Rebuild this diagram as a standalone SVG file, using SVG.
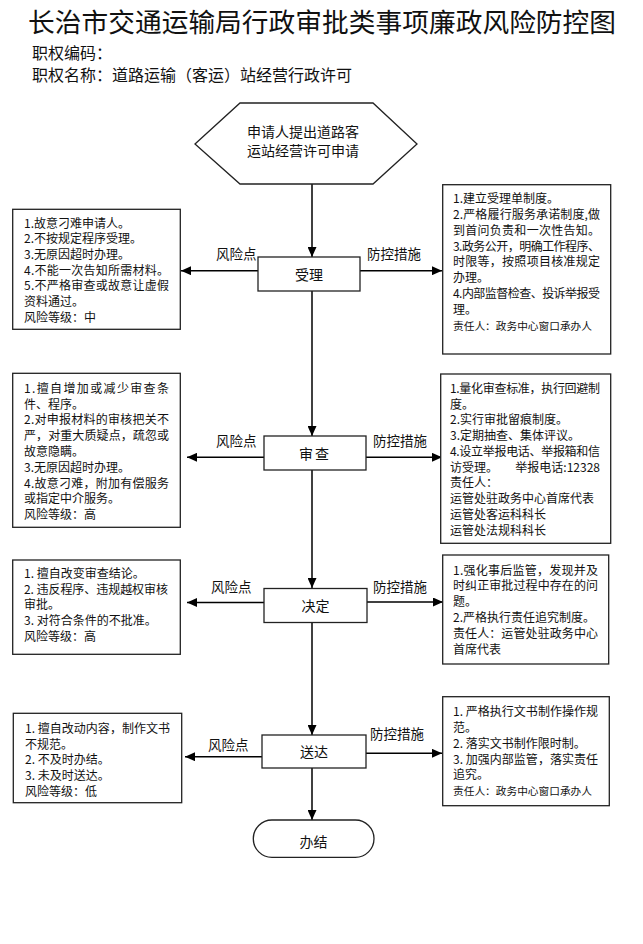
<svg xmlns="http://www.w3.org/2000/svg" width="643" height="944" viewBox="0 0 643 944">
<style>
text{font-family:"Noto Sans CJK SC","Noto Sans",sans-serif;fill:#111}
.title{font-size:26.7px}
.sub{font-size:16px}
.t{font-size:12px}
.s{font-size:10.7px}
.lbl{font-size:13.5px}
.nd{font-size:14px}
.box{fill:#fff;stroke:#222;stroke-width:1.3}
.ln{stroke:#000;stroke-width:1.5;fill:none}
</style>
<defs>
<marker id="ah" markerUnits="userSpaceOnUse" markerWidth="10" markerHeight="9" refX="10" refY="4.5" orient="auto">
<path d="M0,0 L10,4.5 L0,9 Z" fill="#000"/>
</marker>
</defs>
<rect width="643" height="944" fill="#fff"/>
<g id="header">
<text class="title" x="28" y="31.5" textLength="588">长治市交通运输局行政审批类事项廉政风险防控图</text>
<text class="sub" x="32" y="58.5">职权编码：</text>
<text class="sub" x="32" y="80.5">职权名称：道路运输（客运）站经营行政许可</text>
</g>
<g id="connectors">
<line class="ln" x1="312" y1="184" x2="312" y2="257" marker-end="url(#ah)"/>
<line class="ln" x1="312" y1="291" x2="312" y2="436" marker-end="url(#ah)"/>
<line class="ln" x1="312" y1="470" x2="312" y2="588" marker-end="url(#ah)"/>
<line class="ln" x1="312" y1="623" x2="312" y2="735" marker-end="url(#ah)"/>
<line class="ln" x1="312" y1="768" x2="312" y2="820" marker-end="url(#ah)"/>
<line class="ln" x1="258" y1="270.7" x2="181" y2="270.7" marker-end="url(#ah)"/>
<line class="ln" x1="360" y1="270.7" x2="442" y2="270.7" marker-end="url(#ah)"/>
<line class="ln" x1="264" y1="457.3" x2="187" y2="457.3" marker-end="url(#ah)"/>
<line class="ln" x1="366" y1="457.3" x2="442" y2="457.3" marker-end="url(#ah)"/>
<line class="ln" x1="264" y1="602.5" x2="187" y2="602.5" marker-end="url(#ah)"/>
<line class="ln" x1="367" y1="602" x2="443" y2="602" marker-end="url(#ah)"/>
<line class="ln" x1="262" y1="756.7" x2="185" y2="756.7" marker-end="url(#ah)"/>
<line class="ln" x1="366" y1="753.3" x2="442" y2="753.3" marker-end="url(#ah)"/>
<text class="lbl" x="216" y="259">风险点</text>
<text class="lbl" x="367" y="259">防控措施</text>
<text class="lbl" x="216" y="446">风险点</text>
<text class="lbl" x="373" y="446">防控措施</text>
<text class="lbl" x="211" y="592">风险点</text>
<text class="lbl" x="373" y="592">防控措施</text>
<text class="lbl" x="208" y="750">风险点</text>
<text class="lbl" x="370" y="739">防控措施</text>
</g>
<g id="start">
<polygon class="box" points="195,144 240,103 373,103 417,144 373,184 240,184"/>
<text class="nd" x="303" y="137" text-anchor="middle">申请人提出道路客</text>
<text class="nd" x="303" y="156" text-anchor="middle">运站经营许可申请</text>
</g>
<g id="n-shouli">
<rect class="box" x="258" y="257" width="102" height="34"/>
<text class="nd" x="309" y="279.5" text-anchor="middle">受理</text>
</g>
<g id="n-shencha">
<rect class="box" x="264" y="436" width="102" height="34"/>
<text class="nd" x="315" y="458.5" text-anchor="middle" letter-spacing="2">审查</text>
</g>
<g id="n-jueding">
<rect class="box" x="264" y="588.5" width="103" height="34"/>
<text class="nd" x="315.5" y="611" text-anchor="middle">决定</text>
</g>
<g id="n-songda">
<rect class="box" x="262" y="735" width="104" height="33"/>
<text class="nd" x="314" y="757" text-anchor="middle">送达</text>
</g>
<g id="n-banjie">
<rect class="box" x="253.3" y="820" width="120.7" height="37.3" rx="18.6"/>
<text class="nd" x="313.5" y="847" text-anchor="middle">办结</text>
</g>
<g id="risk-1">
<rect class="box" x="12.7" y="209.3" width="167.6" height="120"/>
<text class="t" x="24" y="227.5">1.故意刁难申请人。</text>
<text class="t" x="24" y="243.2">2.不按规定程序受理。</text>
<text class="t" x="24" y="258.9">3.无原因超时办理。</text>
<text class="t" x="24" y="274.6" textLength="145">4.不能一次告知所需材料。</text>
<text class="t" x="24" y="290.3" textLength="145">5.不严格审查或故意让虚假</text>
<text class="t" x="24" y="306">资料通过。</text>
<text class="t" x="24" y="321.7">风险等级：中</text>
</g>
<g id="ctrl-1">
<rect class="box" x="442.7" y="184.7" width="168" height="169.3"/>
<text class="t" x="453" y="202.8">1.建立受理单制度。</text>
<text class="t" x="453" y="218.7" textLength="147">2.严格履行服务承诺制度,做</text>
<text class="t" x="453" y="234.6" textLength="147">到首问负责和一次性告知。</text>
<text class="t" x="453" y="250.5" textLength="147">3.政务公开，明确工作程序、</text>
<text class="t" x="453" y="266.4" textLength="147">时限等，按照项目核准规定</text>
<text class="t" x="453" y="282.3">办理。</text>
<text class="t" x="453" y="298.2" textLength="147">4.内部监督检查、投诉举报受</text>
<text class="t" x="453" y="314.1">理。</text>
<text class="s" x="453" y="330">责任人：政务中心窗口承办人</text>
</g>
<g id="risk-2">
<rect class="box" x="12.7" y="373.3" width="167.6" height="154"/>
<text class="t" x="24" y="392.8" textLength="145">1.擅自增加或减少审查条</text>
<text class="t" x="24" y="408.6">件、程序。</text>
<text class="t" x="24" y="424.4" textLength="145">2.对申报材料的审核把关不</text>
<text class="t" x="24" y="440.2" textLength="145">严，对重大质疑点，疏忽或</text>
<text class="t" x="24" y="456">故意隐瞒。</text>
<text class="t" x="24" y="471.8">3.无原因超时办理。</text>
<text class="t" x="24" y="487.6" textLength="145">4.故意刁难，附加有偿服务</text>
<text class="t" x="24" y="503.4">或指定中介服务。</text>
<text class="t" x="24" y="519.2">风险等级：高</text>
</g>
<g id="ctrl-2">
<rect class="box" x="440.7" y="374" width="170" height="169.3"/>
<text class="t" x="450" y="392.8" textLength="150">1.量化审查标准，执行回避制</text>
<text class="t" x="450" y="408.5">度。</text>
<text class="t" x="450" y="424.3">2.实行审批留痕制度。</text>
<text class="t" x="450" y="440">3.定期抽查、集体评议。</text>
<text class="t" x="450" y="455.8" textLength="150">4.设立举报电话、举报箱和信</text>
<text class="t" x="450" y="471.5">访受理。</text>
<text class="t" x="600" y="471.5" text-anchor="end">举报电话:12328</text>
<text class="t" x="450" y="487.3">责任人：</text>
<text class="t" x="450" y="503">运管处驻政务中心首席代表</text>
<text class="t" x="450" y="518.8">运管处客运科科长</text>
<text class="t" x="450" y="534.5">运管处法规科科长</text>
</g>
<g id="risk-3">
<rect class="box" x="12.7" y="560" width="167.6" height="94.3"/>
<text class="t" x="24" y="577.8">1. 擅自改变审查结论。</text>
<text class="t" x="24" y="593.6" textLength="144">2. 违反程序、违规越权审核</text>
<text class="t" x="24" y="609.4">审批。</text>
<text class="t" x="24" y="625.2">3. 对符合条件的不批准。</text>
<text class="t" x="24" y="641">风险等级：高</text>
</g>
<g id="ctrl-3">
<rect class="box" x="442.7" y="555" width="166" height="109"/>
<text class="t" x="453" y="574.5" textLength="145">1.强化事后监管，发现并及</text>
<text class="t" x="453" y="590.3" textLength="145">时纠正审批过程中存在的问</text>
<text class="t" x="453" y="606.1">题。</text>
<text class="t" x="453" y="621.9">2.严格执行责任追究制度。</text>
<text class="t" x="453" y="637.7" textLength="145">责任人：运管处驻政务中心</text>
<text class="t" x="453" y="653.5">首席代表</text>
</g>
<g id="risk-4">
<rect class="box" x="13.3" y="713.3" width="168.4" height="89.4"/>
<text class="t" x="25" y="732.8" textLength="145">1. 擅自改动内容，制作文书</text>
<text class="t" x="25" y="748.6">不规范。</text>
<text class="t" x="25" y="764.4">2. 不及时办结。</text>
<text class="t" x="25" y="780.2">3. 未及时送达。</text>
<text class="t" x="25" y="796">风险等级：低</text>
</g>
<g id="ctrl-4">
<rect class="box" x="442.7" y="696.7" width="166.6" height="109"/>
<text class="t" x="453" y="716.2" textLength="145">1. 严格执行文书制作操作规</text>
<text class="t" x="453" y="732">范。</text>
<text class="t" x="453" y="747.8">2. 落实文书制作限时制。</text>
<text class="t" x="453" y="763.6" textLength="145">3. 加强内部监管，落实责任</text>
<text class="t" x="453" y="779.4">追究。</text>
<text class="s" x="453" y="795.2">责任人：政务中心窗口承办人</text>
</g>
</svg>
